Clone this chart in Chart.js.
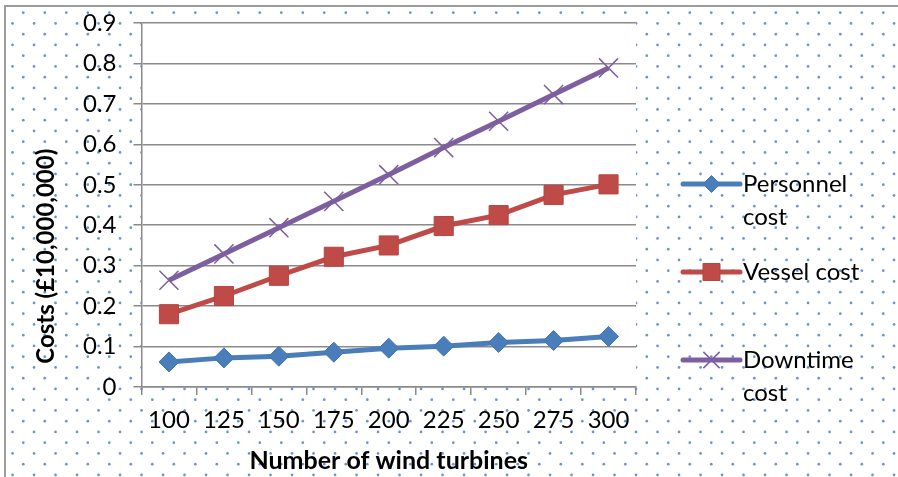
<!DOCTYPE html>
<html><head><meta charset="utf-8">
<script src="https://cdn.jsdelivr.net/npm/chart.js@4.4.0/dist/chart.umd.min.js"></script>
<style>html,body{margin:0;padding:0;background:#fff;}#wrap{width:898px;height:477px;position:relative;}</style>
</head><body><div id="wrap"><canvas id="c"></canvas></div>
<script>
const categories = ['100','125','150','175','200','225','250','275','300'];
const personnelCost = [0.062,0.072,0.076,0.086,0.096,0.101,0.110,0.115,0.125];
const vesselCost = [0.180,0.225,0.275,0.322,0.350,0.398,0.425,0.475,0.501];
const downtimeCost = [0.264,0.329,0.394,0.459,0.525,0.592,0.657,0.723,0.789];
const seriesNames = ['Personnel cost','Vessel cost','Downtime cost'];
const yTickLabels = ['0','0.1','0.2','0.3','0.4','0.5','0.6','0.7','0.8','0.9'];
const xTitle = 'Number of wind turbines';
const yTitle = 'Costs (£10,000,000)';

const FONT = 'Lato';
Chart.defaults.font.family = FONT;
Chart.defaults.color = '#000';

const GRID = '#8a8a8a';

const bgPlugin = {
  id: 'bgPlugin',
  beforeDraw(chart) {
    const {ctx, chartArea: a, width, height} = chart;
    ctx.save();
    ctx.fillStyle = '#fff';
    ctx.fillRect(0, 0, width, height);
    ctx.fillStyle = 'rgba(79,129,200,0.85)';
    for (let r = 0; ; r++) {
      const y = 1.95 + r * 10.75;
      if (y > height + 2) break;
      if (y < 8) continue;
      const x0 = (r % 2 === 1) ? 1.8 : 12.55;
      for (let x = x0; x < width + 2; x += 21.5) {
        if (x < 7) continue;
        ctx.beginPath();
        ctx.arc(x, y, 1.35, 0, Math.PI * 2);
        ctx.fill();
      }
    }
    ctx.fillStyle = '#fff';
    ctx.fillRect(a.left, a.top, a.right - a.left, a.bottom - a.top);
    ctx.strokeStyle = '#9c9c9c';
    ctx.lineWidth = 2;
    ctx.strokeRect(5, 6, width + 10, height + 10);
    ctx.restore();
  }
};

const legendPlugin = {
  id: 'sideLegend',
  afterDraw(chart) {
    const ctx = chart.ctx;
    ctx.save();
    ctx.font = '24px ' + FONT;
    ctx.textBaseline = 'middle';
    ctx.textAlign = 'left';
    const x0 = 683, x1 = 740, cx = (x0 + x1) / 2, tx = 743;
    const markerSizes = {rectRot: 8.5, rect: 12, crossRot: 11.5};
    chart.data.datasets.forEach((ds, i) => {
      const y = 184 + 88 * i;
      ctx.strokeStyle = ds.borderColor;
      ctx.lineWidth = 5;
      ctx.lineCap = 'round';
      ctx.beginPath();
      ctx.moveTo(x0, y); ctx.lineTo(x1, y); ctx.stroke();
      ctx.fillStyle = ds.pointBackgroundColor;
      ctx.strokeStyle = ds.pointBorderColor;
      ctx.lineWidth = ds.pointBorderWidth;
      ctx.lineCap = 'butt';
      Chart.helpers.drawPoint(ctx, {pointStyle: ds.pointStyle, radius: markerSizes[ds.pointStyle], borderWidth: ds.pointBorderWidth, rotation: 0}, cx, y);
      const words = ds.label.split(' ');
      const lines = [];
      let cur = '';
      words.forEach(w => {
        const t = cur ? cur + ' ' + w : w;
        if (cur && ctx.measureText(t).width > 130) { lines.push(cur); cur = w; } else cur = t;
      });
      if (cur) lines.push(cur);
      ctx.fillStyle = '#000';
      lines.forEach((ln, k) => ctx.fillText(ln, tx, y + k * 33));
    });
    ctx.restore();
  }
};

new Chart(document.getElementById('c'), {
  type: 'line',
  data: {
    labels: categories,
    datasets: [
      {label: seriesNames[0], data: personnelCost, borderColor: '#4a7ebb', backgroundColor: '#4a7ebb',
       pointBackgroundColor: '#4a7ebb', pointBorderColor: '#4175b5', pointBorderWidth: 1,
       pointStyle: 'rectRot', pointRadius: 10, pointHoverRadius: 10, borderWidth: 5, tension: 0},
      {label: seriesNames[1], data: vesselCost, borderColor: '#be4b48', backgroundColor: '#be4b48',
       pointBackgroundColor: '#be4b48', pointBorderColor: '#b54542', pointBorderWidth: 1,
       pointStyle: 'rect', pointRadius: 13.5, pointHoverRadius: 13.5, borderWidth: 5, tension: 0},
      {label: seriesNames[2], data: downtimeCost, borderColor: '#7d5fa0', backgroundColor: '#7d5fa0',
       pointBackgroundColor: '#7d5fa0', pointBorderColor: '#7d5fa0', pointBorderWidth: 1.5,
       pointStyle: 'crossRot', pointRadius: 13.5, pointHoverRadius: 13.5, borderWidth: 5, tension: 0}
    ]
  },
  options: {
    responsive: true,
    maintainAspectRatio: false,
    animation: false,
    layout: {padding: {left: 0, right: 262, top: 23, bottom: 0}},
    plugins: {legend: {display: false}, tooltip: {enabled: false}},
    scales: {
      x: {
        type: 'category',
        offset: true,
        grid: {offset: true, drawOnChartArea: false, drawTicks: true, tickLength: 8, color: GRID, lineWidth: 1.5},
        border: {display: true, color: GRID, width: 1.5},
        ticks: {font: {size: 24}, color: '#000', padding: 11, maxRotation: 0, autoSkip: false},
        title: {display: true, text: xTitle, font: {size: 25, weight: 'bold'}, color: '#000', padding: {top: 0, bottom: 1}},
        afterFit(s) { s.height = 90; s.paddingLeft = 0; s.paddingRight = 0; }
      },
      y: {
        min: 0, max: 0.9,
        ticks: {stepSize: 0.1, font: {size: 24}, color: '#000', padding: 17,
                callback: (v) => yTickLabels[Math.round(v * 10)]},
        grid: {drawTicks: true, tickLength: 8, color: GRID, lineWidth: 1.5},
        border: {display: true, color: GRID, width: 1.5},
        title: {display: true, text: '    ' + yTitle, align: 'start', font: {size: 24, weight: 'bold'}, color: '#000', padding: {top: 32, bottom: 0}},
        afterFit(s) { s.width = 141.5; s.paddingTop = 0; s.paddingBottom = 0; }
      }
    }
  },
  plugins: [bgPlugin, legendPlugin]
});
</script></body></html>
